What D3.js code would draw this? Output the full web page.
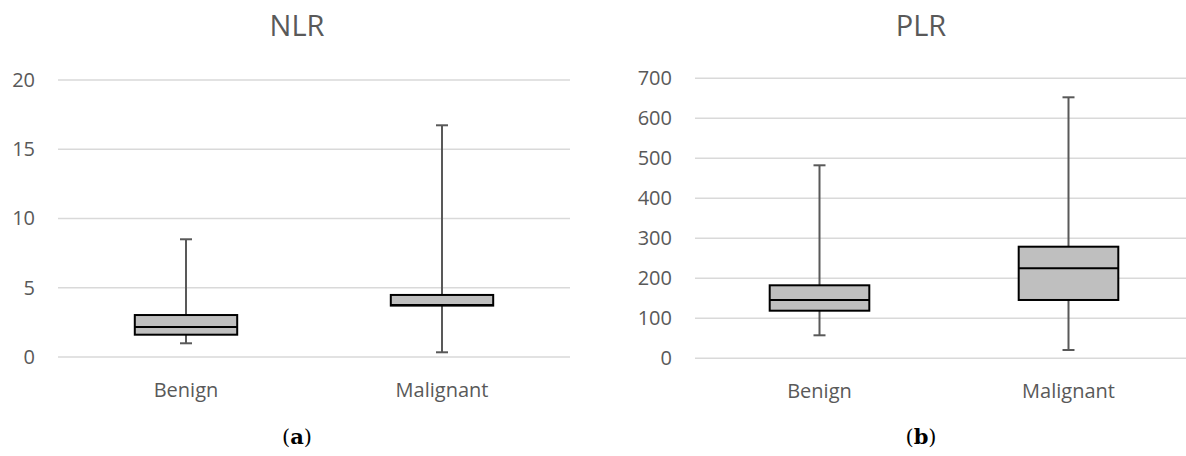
<!DOCTYPE html>
<html><head><meta charset="utf-8">
<script src="https://cdn.jsdelivr.net/npm/d3@7"></script>
<style>body{margin:0;background:#fff}svg{display:block}</style>
</head><body>
<svg id="c" width="1186" height="456"></svg>
<script>
const categories = ["Benign", "Malignant"];
// [whiskerLow, q1, median, q3, whiskerHigh]
const nlrValues = [[0.99, 1.61, 2.17, 3.03, 8.5], [0.34, 3.71, 3.75, 4.48, 16.73]];
const plrValues = [[57.5, 119, 145.8, 182.5, 482.5], [20.8, 145.8, 225, 279, 652.5]];
const nlrTicks = [0, 5, 10, 15, 20];
const plrTicks = [0, 100, 200, 300, 400, 500, 600, 700];
const titles = ["NLR", "PLR"];
const panelLabels = ["a", "b"];

const svg = d3.select("#c");
const font = "'Open Sans', sans-serif";

const panels = [
  {title: titles[0], vals: nlrValues, ticks: nlrTicks, x0: 58, x1: 570, y0: 357, y1: 80, lab: panelLabels[0], tickX: 35, cx: 297},
  {title: titles[1], vals: plrValues, ticks: plrTicks, x0: 695, x1: 1193, y0: 358.3, y1: 78.3, lab: panelLabels[1], tickX: 672, cx: 921}
];

panels.forEach(p => {
  const g = svg.append("g");
  const x = d3.scaleBand().domain(categories).range([p.x0, p.x1]);
  const y = d3.scaleLinear().domain([0, d3.max(p.ticks)]).range([p.y0, p.y1]);

  // gridlines
  g.selectAll(".grid").data(p.ticks).enter().append("line")
    .attr("x1", p.x0).attr("x2", p.x1)
    .attr("y1", d => y(d)).attr("y2", d => y(d))
    .attr("stroke", "#d9d9d9").attr("stroke-width", 1.5);

  // y tick labels via axis
  const ax = g.append("g").attr("transform", `translate(${p.tickX},0)`)
    .call(d3.axisLeft(y).tickValues(p.ticks).tickSize(0).tickPadding(0));
  ax.select(".domain").remove();
  ax.selectAll("text").attr("font-family", font).attr("font-size", 20).attr("fill", "#595959");

  // x labels
  const xa = g.append("g").attr("transform", `translate(0,${p.y0})`)
    .call(d3.axisBottom(x).tickSize(0).tickPadding(0));
  xa.select(".domain").remove();
  xa.selectAll("text").attr("font-family", font).attr("font-size", 20).attr("fill", "#595959")
    .attr("dy", null).attr("y", 40);

  // title
  g.append("text").attr("x", p.cx).attr("y", 36)
    .attr("text-anchor", "middle").attr("font-family", font).attr("font-size", 29)
    .attr("fill", "#595959").text(p.title);

  const bw = x.bandwidth() * 0.4;
  const cap = 12;
  p.vals.forEach((v, i) => {
    const cx = x(categories[i]) + x.bandwidth() / 2;
    const wg = g.append("g").attr("stroke", "#595959").attr("stroke-width", 2);
    wg.append("line").attr("x1", cx).attr("x2", cx).attr("y1", y(v[0])).attr("y2", y(v[1]));
    wg.append("line").attr("x1", cx).attr("x2", cx).attr("y1", y(v[3])).attr("y2", y(v[4]));
    wg.append("line").attr("x1", cx - cap / 2).attr("x2", cx + cap / 2).attr("y1", y(v[0])).attr("y2", y(v[0]));
    wg.append("line").attr("x1", cx - cap / 2).attr("x2", cx + cap / 2).attr("y1", y(v[4])).attr("y2", y(v[4]));
    g.append("rect").attr("x", cx - bw / 2).attr("width", bw)
      .attr("y", y(v[3])).attr("height", y(v[1]) - y(v[3]))
      .attr("fill", "#bfbfbf").attr("stroke", "#000").attr("stroke-width", 2);
    g.append("line").attr("x1", cx - bw / 2).attr("x2", cx + bw / 2)
      .attr("y1", y(v[2])).attr("y2", y(v[2])).attr("stroke", "#000").attr("stroke-width", 2);
  });

  // panel label (a)/(b)
  const t = svg.append("text").attr("x", p.cx).attr("y", 444)
    .attr("text-anchor", "middle").attr("font-family", "'DejaVu Serif', 'Liberation Serif', serif")
    .attr("font-size", 21).attr("fill", "#000");
  t.append("tspan").text("(");
  t.append("tspan").attr("font-weight", "bold").text(p.lab);
  t.append("tspan").text(")");
});
</script>
</body></html>
